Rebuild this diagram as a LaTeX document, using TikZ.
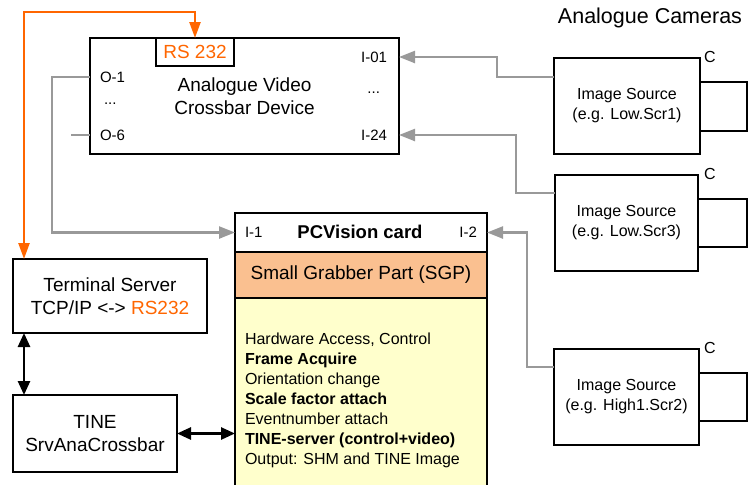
\documentclass[tikz,border=0pt]{standalone}
\usepackage{fontspec}
\setmainfont{Liberation Sans}
\usepackage{xcolor}
\usepackage{tikz}
\usetikzlibrary{arrows.meta}

\definecolor{rsorange}{RGB}{255,102,0}
\definecolor{sgporange}{RGB}{250,192,144}
\definecolor{bodyyellow}{RGB}{255,255,204}
\definecolor{linkgray}{RGB}{153,153,153}

\begin{document}
\begin{tikzpicture}[x=1pt, y=-1pt,
  every node/.style = {inner sep=0pt, outer sep=0pt, font=\fontsize{19}{23}\selectfont},
  box/.style = {draw, line width=2.6pt, fill=white, align=center},
  port/.style = {font=\fontsize{15}{18}\selectfont},
  camtext/.style = {font=\fontsize{16}{20}\selectfont},
  video/.style = {draw=linkgray, line width=2.4pt, -{Triangle[length=16pt, width=12pt]}},
  serial/.style = {draw=rsorange, line width=2.4pt, {Triangle[length=16pt, width=11pt]}-{Triangle[length=16pt, width=11pt]}},
  link/.style = {line width=2.6pt, {Triangle[length=14pt, width=12pt]}-{Triangle[length=14pt, width=12pt]}},]

\useasboundingbox (0,0) rectangle (748,485);

\node[box, minimum width=309pt, minimum height=116pt] (crossbar) at (244.5,96) {Analogue Video\\Crossbar Device};
\node[box, minimum width=78pt, minimum height=28pt, text=rsorange] (rs232) at (195,52) {RS 232};
\node[port, anchor=west] (out1) at (100,77) {O-1};
\node[port, anchor=west] (outdots) at (104,104) {...};
\node[port, anchor=west] (out6) at (100,135) {O-6};
\node[port, anchor=east] (in01) at (387,57) {I-01};
\node[port, anchor=east] (indots) at (380,93) {...};
\node[port, anchor=east] (in24) at (387,135) {I-24};

\node[box, minimum width=194pt, minimum height=74pt] (termsrv) at (110,296) {Terminal Server\\TCP/IP <-> \textcolor{rsorange}{RS232}};
\node[box, minimum width=164pt, minimum height=77pt] (tine) at (95,433.5) {TINE\\SrvAnaCrossbar};

\node[box, minimum width=252pt, minimum height=39pt] (pcvcard) at (361,232.5) {};
\node[port, anchor=west] (pcvin1) at (245,232) {I-1};
\node[font=\fontsize{18.5}{22}\selectfont\bfseries] (pcvtitle) at (360,232) {PCVision card};
\node[port, anchor=east] (pcvin2) at (477,232) {I-2};
\node[box, fill=sgporange, minimum width=252pt, minimum height=46pt] (sgp) at (361,275) {Small Grabber Part (SGP)};
\node[box, fill=bodyyellow, minimum width=252pt, minimum height=192pt] (pcvbody) at (361,394) {};
\node[anchor=west, align=left, font=\fontsize{16}{20}\selectfont] (pcvtasks) at (245,400) {Hardware Access, Control\\\textbf{Frame Acquire}\\Orientation change\\\textbf{Scale factor attach}\\Eventnumber attach\\\textbf{TINE-server (control+video)}\\Output: SHM and TINE Image};

\node[font=\fontsize{21.5}{26}\selectfont] (camtitle) at (650,18) {Analogue Cameras};

\node[box, camtext, minimum width=146pt, minimum height=96pt] (cam1) at (627,106) {Image Source\\(e.g. Low.Scr1)};
\node[box, minimum width=47pt, minimum height=49pt] (lens1) at (723.5,106.5) {};
\node[camtext] (c1) at (710,57) {C};
\node[box, camtext, minimum width=143pt, minimum height=96pt] (cam2) at (626.5,223) {Image Source\\(e.g. Low.Scr3)};
\node[box, minimum width=49pt, minimum height=48pt] (lens2) at (722.5,223) {};
\node[camtext] (c2) at (710,174) {C};
\node[box, camtext, minimum width=145pt, minimum height=96pt] (cam3) at (626.5,397) {Image Source\\(e.g. High1.Scr2)};
\node[box, minimum width=48pt, minimum height=48pt] (lens3) at (723,397) {};
\node[camtext] (c3) at (710,348) {C};

\draw[video] ([yshift=29pt]cam1.west) -- ++(-57,0) |- (crossbar.east |- in01);
\draw[video] ([yshift=30pt]cam2.west) -- ++(-39,0) |- (crossbar.east |- in24);
\draw[video] ([yshift=30pt]cam3.west) -- ++(-27,0) |- (pcvcard.east);
\draw[video] (crossbar.west |- out1) -- ++(-38,0) |- (pcvcard.west);
\draw[draw=linkgray, line width=2.4pt] (crossbar.west |- out6) -- ++(-19,0);
\draw[serial] ([xshift=11pt]termsrv.north west) -- ++(0,-247) -| (rs232.north);
\draw[link] ([xshift=11pt]termsrv.south west) -- ([xshift=11pt]tine.north west);
\draw[link] (tine.east) -- (tine.east -| pcvbody.west);
\end{tikzpicture}
\end{document}
